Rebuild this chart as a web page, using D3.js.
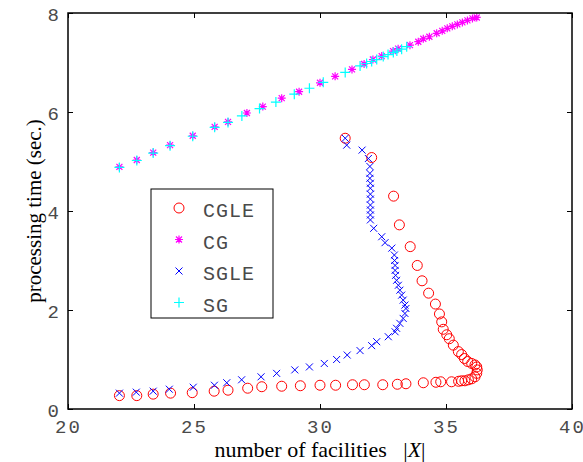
<!DOCTYPE html>
<html>
<head>
<meta charset="utf-8">
<script src="https://cdn.jsdelivr.net/npm/d3@7"></script>
<style>
  html, body { margin: 0; padding: 0; background: #fff; }
  svg { display: block; }
</style>
</head>
<body>
<div id="chart"></div>
<script>
// series: [facilities, seconds]
const cgle = [
  [22.04, 0.27], [22.73, 0.27], [23.38, 0.30], [24.07, 0.32], [24.93, 0.33], [25.80, 0.36],
  [26.35, 0.38], [27.13, 0.42], [27.69, 0.45], [28.48, 0.46], [29.22, 0.47], [30.00, 0.48],
  [30.62, 0.48], [31.29, 0.49], [31.76, 0.49], [32.49, 0.49], [33.07, 0.50], [33.41, 0.51],
  [34.10, 0.53], [34.60, 0.54], [34.79, 0.55], [35.22, 0.55], [35.50, 0.56], [35.62, 0.57],
  [35.75, 0.57], [35.89, 0.59], [36.02, 0.61], [36.15, 0.65], [36.22, 0.72], [36.24, 0.79],
  [36.22, 0.85], [36.15, 0.89], [36.02, 0.92], [35.86, 0.96], [35.73, 1.02], [35.62, 1.10],
  [35.49, 1.16], [35.29, 1.29], [35.13, 1.42], [35.03, 1.50], [34.89, 1.61], [34.83, 1.76],
  [34.74, 1.92], [34.58, 2.12], [34.31, 2.34], [34.05, 2.59], [33.86, 2.90], [33.58, 3.28],
  [33.15, 3.72], [32.92, 4.30], [32.05, 5.08], [31.00, 5.47]
];

const cg = [
  [22.04, 4.89], [22.73, 5.03], [23.38, 5.18], [24.05, 5.33], [24.95, 5.52], [25.82, 5.70],
  [26.35, 5.80], [27.10, 5.98], [27.73, 6.11], [28.48, 6.28], [29.17, 6.41], [30.00, 6.59],
  [30.60, 6.72], [31.27, 6.86], [31.75, 6.97], [32.10, 7.06], [32.45, 7.13], [32.90, 7.23],
  [33.10, 7.28], [33.57, 7.35], [33.90, 7.42], [34.10, 7.48], [34.34, 7.52], [34.63, 7.59],
  [34.85, 7.64], [35.05, 7.69], [35.25, 7.73], [35.45, 7.77], [35.65, 7.81], [35.85, 7.85],
  [36.05, 7.89], [36.22, 7.91]
];

const sgle = [
  [22.04, 0.32], [22.71, 0.34], [23.38, 0.36], [24.02, 0.40], [24.97, 0.44], [25.81, 0.48],
  [26.30, 0.53], [26.89, 0.59], [27.66, 0.65], [28.28, 0.72], [29.00, 0.79], [29.58, 0.85],
  [30.17, 0.92], [30.66, 1.00], [31.08, 1.09], [31.59, 1.18], [32.05, 1.28], [32.25, 1.36],
  [32.71, 1.46], [32.98, 1.56], [33.04, 1.63], [33.17, 1.73], [33.30, 1.83], [33.37, 1.93],
  [33.41, 2.03], [33.37, 2.10], [33.30, 2.20], [33.24, 2.30], [33.17, 2.40], [33.11, 2.50],
  [33.04, 2.60], [33.00, 2.70], [32.98, 2.80], [32.98, 2.90], [32.96, 3.00], [32.95, 3.11],
  [32.85, 3.25], [32.58, 3.36], [32.45, 3.48], [32.13, 3.65], [32.00, 3.82], [32.00, 3.92],
  [32.00, 4.02], [32.00, 4.12], [32.00, 4.24], [32.00, 4.34], [32.00, 4.46], [32.00, 4.56],
  [31.98, 4.66], [31.98, 4.76], [31.98, 4.90], [31.92, 5.06], [31.67, 5.23], [31.06, 5.33],
  [31.00, 5.47]
];

const sg = [
  [22.04, 4.88], [22.73, 5.02], [23.38, 5.17], [24.05, 5.32], [24.95, 5.51], [25.82, 5.69],
  [26.35, 5.79], [26.90, 5.92], [27.60, 6.07], [28.25, 6.20], [28.98, 6.36], [29.58, 6.48],
  [30.13, 6.60], [31.00, 6.80], [31.59, 6.93], [31.85, 6.98], [32.05, 7.02], [32.25, 7.06],
  [32.51, 7.12], [32.70, 7.16], [32.91, 7.20], [33.05, 7.23], [33.24, 7.27], [33.44, 7.32]
];

const xTicks = [20, 25, 30, 35, 40];
const yTicks = [0, 2, 4, 6, 8];
const seriesNames = ['CGLE', 'CG', 'SGLE', 'SG'];

const width = 583, height = 462;
const margin = { top: 13, right: 11, bottom: 53, left: 68 };
const plotW = width - margin.left - margin.right;
const plotH = height - margin.top - margin.bottom;

const svg = d3.select('#chart').append('svg')
  .attr('width', width)
  .attr('height', height);

const g = svg.append('g')
  .attr('transform', `translate(${margin.left},${margin.top})`);

const x = d3.scaleLinear().domain([20, 40]).range([0, plotW]);
const y = d3.scaleLinear().domain([0, 8]).range([plotH, 0]);

const tickFont = "'Liberation Mono', 'Courier New', monospace";
const labelFont = "'Liberation Serif', 'Times New Roman', serif";
const tickColor = '#4a4a4a';

// marker drawers
const markers = {
  CGLE: (sel) => sel.append('circle').attr('r', 5)
    .attr('fill', 'none').attr('stroke', '#ff0000').attr('stroke-width', 1),
  CG: (sel) => sel.append('path')
    .attr('d', 'M-4,0H4M0,-4V4M-3,-3L3,3M-3,3L3,-3')
    .attr('stroke', '#ff00ff').attr('stroke-width', 1.2).attr('fill', 'none'),
  SGLE: (sel) => sel.append('path')
    .attr('d', 'M-3.5,-3.5L3.5,3.5M-3.5,3.5L3.5,-3.5')
    .attr('stroke', '#0000ff').attr('stroke-width', 1).attr('fill', 'none'),
  SG: (sel) => sel.append('path')
    .attr('d', 'M-5,0H5M0,-5V5')
    .attr('stroke', '#00ffff').attr('stroke-width', 1.2).attr('fill', 'none')
};

const seriesData = { CGLE: cgle, CG: cg, SGLE: sgle, SG: sg };

// plot points
seriesNames.forEach(name => {
  const pts = g.append('g').attr('class', 'series-' + name)
    .selectAll('g')
    .data(seriesData[name])
    .enter()
    .append('g')
    .attr('transform', d => `translate(${x(d[0])},${y(d[1])})`);
  markers[name](pts);
});

// axes (ticks inside, on all four sides)
const styleAxis = (sel) => {
  sel.select('.domain').remove();
  sel.selectAll('line').attr('stroke', '#000').attr('stroke-width', 1);
};

g.append('g')
  .attr('transform', `translate(0,${plotH})`)
  .call(d3.axisBottom(x).tickValues(xTicks).tickSize(-5).tickPadding(13).tickFormat(d3.format('d')))
  .call(styleAxis)
  .call(a => a.selectAll('text')
    .attr('fill', tickColor)
    .attr('dy', '0.6em')
    .style('font-family', tickFont)
    .style('font-size', '19px')
    .style('letter-spacing', '2px'));

g.append('g')
  .call(d3.axisTop(x).tickValues(xTicks).tickSize(-5).tickFormat(''))
  .call(styleAxis);

g.append('g')
  .call(d3.axisLeft(y).tickValues(yTicks).tickSize(-5).tickPadding(9).tickFormat(d3.format('d')))
  .call(styleAxis)
  .call(a => a.selectAll('text')
    .attr('fill', tickColor)
    .attr('dy', '0.4em')
    .style('font-family', tickFont)
    .style('font-size', '19px'));

g.append('g')
  .attr('transform', `translate(${plotW},0)`)
  .call(d3.axisRight(y).tickValues(yTicks).tickSize(-5).tickFormat(''))
  .call(styleAxis);

// frame
g.append('rect')
  .attr('width', plotW)
  .attr('height', plotH)
  .attr('fill', 'none')
  .attr('stroke', '#000')
  .attr('stroke-width', 1.5);

// axis labels
const xLabel = svg.append('text')
  .attr('x', 320)
  .attr('y', 457)
  .attr('text-anchor', 'middle')
  .attr('xml:space', 'preserve')
  .style('white-space', 'pre')
  .style('font-family', labelFont)
  .style('font-size', '22px')
  .attr('fill', '#000');
xLabel.append('tspan').text('number of facilities   |');
xLabel.append('tspan').style('font-style', 'italic').text('X');
xLabel.append('tspan').text('|');

svg.append('text')
  .attr('transform', `translate(41,${margin.top + plotH / 2}) rotate(-90)`)
  .attr('text-anchor', 'middle')
  .style('font-family', labelFont)
  .style('font-size', '21px')
  .attr('fill', '#000')
  .text('processing time (sec.)');

// legend
const legend = svg.append('g').attr('transform', 'translate(151,189)');
legend.append('rect')
  .attr('width', 122)
  .attr('height', 129)
  .attr('fill', '#fff')
  .attr('stroke', '#000')
  .attr('stroke-width', 1);

seriesNames.forEach((name, i) => {
  const row = legend.append('g').attr('transform', `translate(28,${19 + i * 31.5})`);
  markers[name](row);
  row.append('text')
    .attr('x', 24)
    .attr('y', 9)
    .attr('fill', tickColor)
    .style('font-family', tickFont)
    .style('font-size', '20px')
    .style('letter-spacing', '1px')
    .text(name);
});
</script>
</body>
</html>
